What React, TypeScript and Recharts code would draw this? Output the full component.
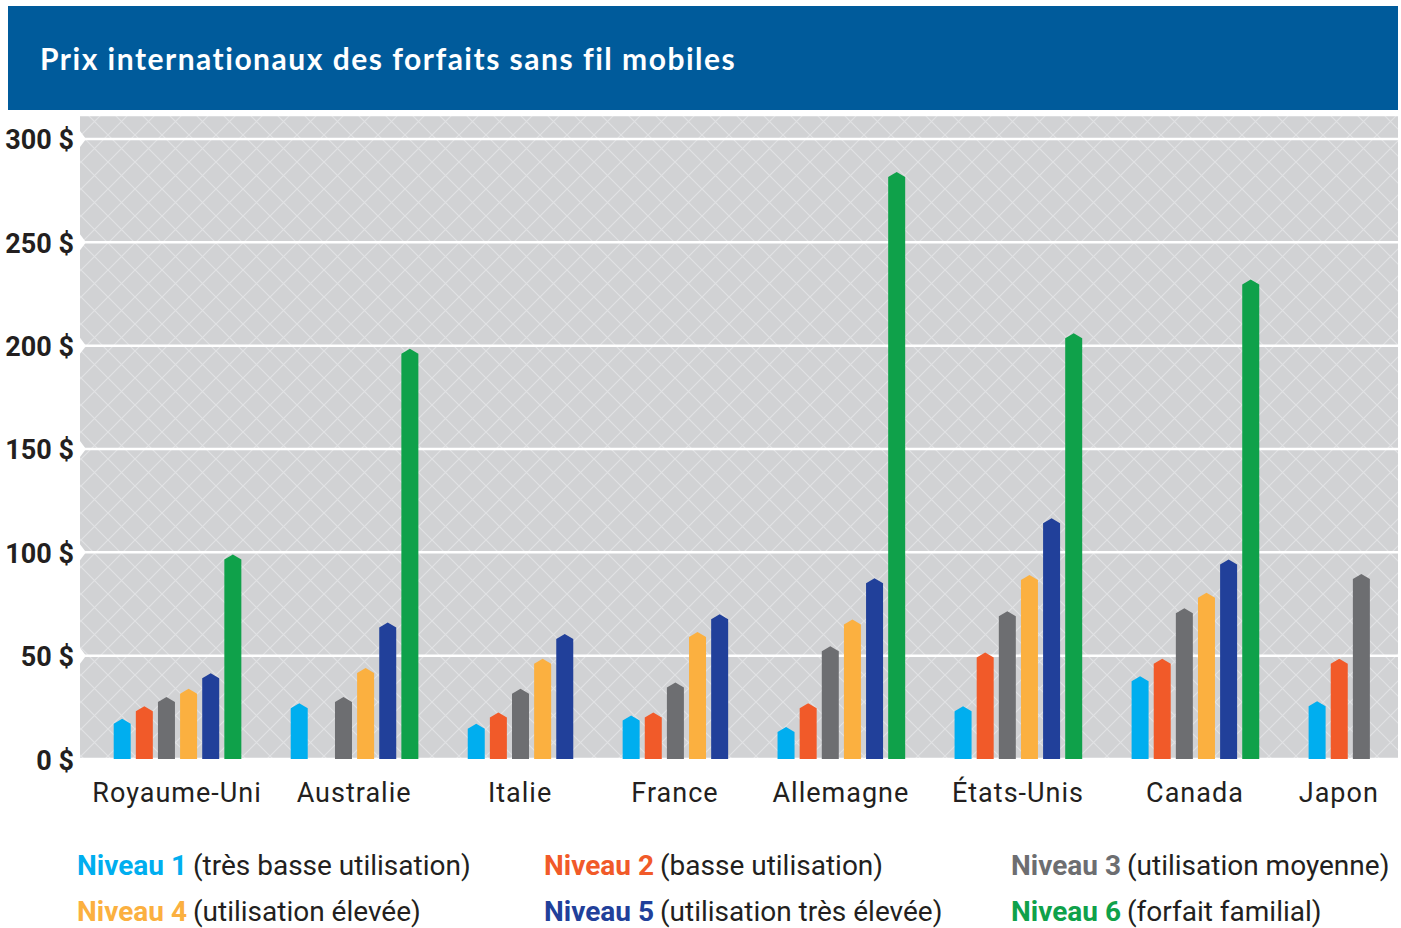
import { BarChart, Bar, XAxis, YAxis, CartesianGrid, Cell } from "recharts";

const countries = [
  "Royaume-Uni",
  "Australie",
  "Italie",
  "France",
  "Allemagne",
  "États-Unis",
  "Canada",
  "Japon",
];

// prix mensuels ($), null = pas de forfait
const niveau1 = [19.5, 27, 17, 21, 15.5, 25.5, 40, 28];
const niveau2 = [25.5, null, 22.5, 22.5, 27, 51.5, 48.5, 48.5];
const niveau3 = [30, 30, 34, 37, 54.5, 71.5, 73, 89.5];
const niveau4 = [34, 44, 48.5, 61.5, 67.5, 89, 80.5, null];
const niveau5 = [41.5, 66, 60.5, 70, 87.5, 116.5, 96.5, null];
const niveau6 = [99, 198.5, null, null, 284, 206, 232, null];

const seriesValues = [niveau1, niveau2, niveau3, niveau4, niveau5, niveau6];
const levelNames = ["Niveau 1", "Niveau 2", "Niveau 3", "Niveau 4", "Niveau 5", "Niveau 6"];
const levelNotes = [
  "(très basse utilisation)",
  "(basse utilisation)",
  "(utilisation moyenne)",
  "(utilisation élevée)",
  "(utilisation très élevée)",
  "(forfait familial)",
];
const levelColors = ["#00aeef", "#f15a29", "#6d6e71", "#fbb040", "#21409a", "#0fa14a"];
const yTicks = [0, 50, 100, 150, 200, 250, 300];

const PLOT_LEFT = 80;
const TEXT = "#231f20";
const FONT = "Roboto, sans-serif";

type Slot = { slot: string; pos: number; value: number | null; level: number };

// one slot per bar, trailing missing levels dropped, two empty slots between countries
const slots: Slot[] = [];
const groupCenters: number[] = [];
countries.forEach((country, ci) => {
  const vals = seriesValues.map((s) => s[ci]);
  let last = vals.length - 1;
  while (last > 0 && vals[last] == null) last--;
  const start = slots.length;
  for (let l = 0; l <= last; l++) {
    slots.push({ slot: `${country}-${l}`, pos: slots.length + 0.5, value: vals[l], level: l });
  }
  groupCenters.push((start + slots.length) / 2);
  if (ci < countries.length - 1) {
    for (let g = 0; g < 2; g++) {
      slots.push({ slot: `${country}-gap${g}`, pos: slots.length + 0.5, value: null, level: -1 });
    }
  }
});

const PointedBar = (props: any) => {
  const { x, y, width, height, payload } = props;
  if (!height || height <= 0) return null;
  const tip = 5;
  const fill = levelColors[payload?.level] ?? props.fill;
  return (
    <path
      d={`M${x},${y + height} L${x},${y + tip} L${x + width / 2},${y} L${x + width},${y + tip} L${x + width},${y + height} Z`}
      fill={fill}
    />
  );
};

const YTick = (props: any) => {
  const { y, payload } = props;
  return (
    <g>
      {payload.value > 0 && (
        <polygon
          points={`${PLOT_LEFT},${y - 8} ${PLOT_LEFT + 6},${y} ${PLOT_LEFT},${y + 8}`}
          fill="#fff"
        />
      )}
      <text
        x={PLOT_LEFT - 6}
        y={y}
        dy={10.5}
        textAnchor="end"
        fill={TEXT}
        fontFamily={FONT}
        fontWeight={700}
        fontSize={27}
      >
        {`${payload.value} $`}
      </text>
    </g>
  );
};

const CountryTick = (props: any) => {
  const { x, y, payload } = props;
  const idx = groupCenters.indexOf(payload.value);
  return (
    <text
      x={x}
      y={y}
      dy={13}
      textAnchor="middle"
      fill={TEXT}
      fontFamily={FONT}
      fontSize={27}
      letterSpacing={1}
    >
      {countries[idx]}
    </text>
  );
};

export default function App() {
  const legendRows = [
    [0, 1, 2],
    [3, 4, 5],
  ];
  const legendX = [77, 544, 1011];
  return (
    <div
      style={{
        position: "absolute",
        left: 0,
        top: 0,
        width: 1401,
        height: 928,
        background: "#fff",
        overflow: "hidden",
      }}
    >
      <div
        style={{
          position: "absolute",
          left: 8,
          top: 6,
          width: 1390,
          height: 104,
          background: "#005b9b",
        }}
      >
        <div
          style={{
            position: "absolute",
            left: 32,
            top: 34,
            color: "#fff",
            fontFamily: "Lato, sans-serif",
            fontWeight: 700,
            fontSize: 30,
            letterSpacing: 1.5,
            fontVariantLigatures: "none",
            lineHeight: "36px",
            whiteSpace: "nowrap",
          }}
        >
          Prix internationaux des forfaits sans fil mobiles
        </div>
      </div>

      <div style={{ position: "absolute", left: 0, top: 0 }}>
        <BarChart
          width={1401}
          height={830}
          data={slots}
          margin={{ top: 115, right: 3, bottom: 0, left: 0 }}
          barSize={17}
        >
          <defs>
            <pattern id="hatch" width="27" height="27" patternUnits="userSpaceOnUse">
              <rect width="27" height="27" fill="#d1d2d4" />
              <path d="M0,0 L27,27 M27,0 L0,27" stroke="#e1e2e4" strokeWidth={1.2} />
            </pattern>
          </defs>
          <CartesianGrid
            vertical={false}
            stroke="#ffffff"
            strokeWidth={2.5}
            fill="url(#hatch)"
            fillOpacity={1}
          />
          <XAxis dataKey="slot" hide padding={{ left: 30.7, right: 26 }} />
          <XAxis
            xAxisId="country"
            dataKey="pos"
            type="number"
            domain={[0, slots.length]}
            ticks={groupCenters}
            interval={0}
            padding={{ left: 30.7, right: 26 }}
            axisLine={false}
            tickLine={false}
            tickSize={0}
            tickMargin={0}
            height={71}
            tick={<CountryTick />}
          />
          <YAxis
            domain={[0, 311.6]}
            ticks={yTicks}
            interval={0}
            width={80}
            axisLine={false}
            tickLine={false}
            tick={<YTick />}
          />
          <Bar dataKey="value" isAnimationActive={false} shape={<PointedBar />}>
            {slots.map((s) => (
              <Cell key={s.slot} fill={s.level >= 0 ? levelColors[s.level] : "none"} />
            ))}
          </Bar>
        </BarChart>
      </div>

      {legendRows.map((row, ri) =>
        row.map((lvl, ci) => (
          <div
            key={lvl}
            style={{
              position: "absolute",
              left: legendX[ci],
              top: 846 + ri * 46,
              fontFamily: FONT,
              fontSize: 28,
              lineHeight: "40px",
              whiteSpace: "nowrap",
              color: TEXT,
            }}
          >
            <span style={{ color: levelColors[lvl], fontWeight: 700 }}>{levelNames[lvl]}</span>
            <span style={{ marginLeft: 6 }}>{levelNotes[lvl]}</span>
          </div>
        ))
      )}
    </div>
  );
}
